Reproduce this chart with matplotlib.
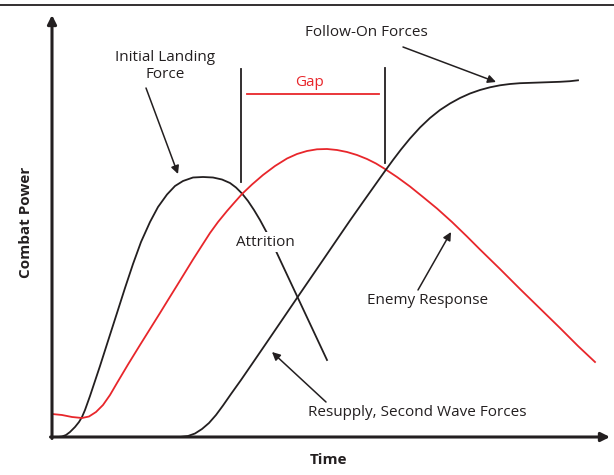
import matplotlib
matplotlib.use("Agg")
import matplotlib.pyplot as plt

plt.rcParams['font.family'] = ['Open Sans', 'DejaVu Sans']

# origin of the diagram, in pixels of the picture
X0, Y0 = 52, 437

# curves (pixel x, pixel y)
landing_px = [58, 62, 66, 70, 75, 79, 82, 85, 90, 95, 100, 108, 117, 125, 133, 141, 150, 158,
              167, 175, 183, 193, 203, 213, 222, 230, 236, 242, 248, 254, 260, 267, 275, 282,
              297, 312, 327]
landing_py = [437, 436.5, 435, 432, 427, 422, 417, 410, 396, 381, 366, 341, 313, 288, 264, 242,
              222, 207, 194.5, 186, 181, 177.5, 177, 177.5, 179.5, 183, 187.5, 193.5, 201, 210,
              220, 233, 249, 264, 296, 328, 360]

enemy_px = [52, 62, 72, 82, 89, 96, 103, 110, 117, 128, 140, 150, 160, 168, 177, 185, 193,
            201, 210, 218, 227, 234, 242, 252, 263, 275, 287, 297, 307, 317, 327, 337, 347,
            357, 367, 376, 385, 397, 410, 423, 437, 452, 467, 480, 500, 520, 540, 560, 578,
            595]
enemy_py = [414, 415, 417, 418, 416.5, 412, 405, 395, 383, 364.5, 345, 329, 313, 300, 285.5,
            272.5, 259.5, 247, 233, 222, 211, 203, 194, 184.5, 175, 166, 158.5, 154, 151,
            149.3, 149, 150, 152, 155, 159, 163.5, 169, 177, 186.5, 197, 208.5, 222, 236.5,
            249.5, 269, 289, 308.5, 328, 346, 362]

follow_px = [180, 188, 195, 202, 209, 216, 223, 231, 241, 252, 265, 280, 297, 310, 323, 337,
             350, 363, 374, 385, 393, 401, 410, 420, 430, 440, 450, 460, 470, 480, 490, 500,
             510, 520, 540, 560, 570, 578]
follow_py = [437, 436, 433.5, 429, 423, 415, 405.5, 394, 380, 364, 345, 323, 298, 279, 260,
             239.5, 220.5, 202, 186.5, 171, 160, 149.5, 138.5, 127.5, 118, 110, 103.5, 98,
             93.5, 90, 87.3, 85.3, 84, 83.2, 82.5, 81.8, 81.2, 80.3]

# convert to time / combat power
def to_t(px):
    return [p - X0 for p in px]

def to_p(py):
    return [Y0 - p for p in py]

RED = '#e8262b'
INK = '#231f20'
FS = 11

fig = plt.figure(figsize=(6.14, 4.75), dpi=100)
ax = fig.add_axes([0, 0, 1, 1])
ax.set_xlim(-X0, 614 - X0)
ax.set_ylim(Y0 - 475, Y0)
ax.axis('off')

# top rule
ax.plot([-X0, 614 - X0], [Y0 - 5, Y0 - 5], color=INK, lw=1.3)

# axes with arrow heads
ax.annotate('', xy=(0, Y0 - 15), xytext=(0, -1.5),
            arrowprops=dict(arrowstyle='-|>', lw=2.2, color=INK, mutation_scale=13,
                            shrinkA=0, shrinkB=0))
ax.annotate('', xy=(610 - X0, 0), xytext=(-1.5, 0),
            arrowprops=dict(arrowstyle='-|>', lw=2.2, color=INK, mutation_scale=13,
                            shrinkA=0, shrinkB=0))

ax.plot(to_t(landing_px), to_p(landing_py), color=INK, lw=1.3, solid_joinstyle='round')
ax.plot(to_t(enemy_px), to_p(enemy_py), color=RED, lw=1.3, solid_joinstyle='round')
ax.plot(to_t(follow_px), to_p(follow_py), color=INK, lw=1.3, solid_joinstyle='round')

# gap markers
ax.plot([241 - X0, 241 - X0], to_p([69, 182]), color=INK, lw=1.3)
ax.plot([385 - X0, 385 - X0], to_p([68, 163]), color=INK, lw=1.3)
ax.plot([247 - X0, 379 - X0], to_p([94, 94]), color=RED, lw=1.3)
ax.text(310 - X0, Y0 - 83, 'Gap', color=RED, fontsize=FS, ha='center', va='center')

arrow = dict(arrowstyle='-|>', lw=1.1, color=INK, mutation_scale=12, shrinkA=0, shrinkB=0)

ax.text(165 - X0, Y0 - 66, 'Initial Landing\nForce', fontsize=FS, ha='center',
        va='center', linespacing=1.2, color=INK)
ax.annotate('', xy=(178 - X0, Y0 - 174), xytext=(146 - X0, Y0 - 88), arrowprops=arrow)

ax.text(366 - X0, Y0 - 33, 'Follow-On Forces', fontsize=FS, ha='center', va='center', color=INK)
ax.annotate('', xy=(496 - X0, Y0 - 82), xytext=(403 - X0, Y0 - 47), arrowprops=arrow)

ax.text(265 - X0, Y0 - 242, 'Attrition', fontsize=FS, ha='center', va='center', color=INK,
        bbox=dict(facecolor='white', edgecolor='none', pad=1.5))

ax.text(428 - X0, Y0 - 301, 'Enemy Response', fontsize=FS, ha='center', va='center', color=INK)
ax.annotate('', xy=(451 - X0, Y0 - 232), xytext=(418 - X0, Y0 - 290), arrowprops=arrow)

ax.text(417 - X0, Y0 - 412, 'Resupply, Second Wave Forces', fontsize=FS, ha='center',
        va='center', color=INK)
ax.annotate('', xy=(272 - X0, Y0 - 352), xytext=(326 - X0, Y0 - 402), arrowprops=arrow)

ax.text(328 - X0, Y0 - 460, 'Time', fontsize=FS, fontweight='bold', ha='center',
        va='center', color=INK)
ax.text(26 - X0, Y0 - 222, 'Combat Power', fontsize=FS, fontweight='bold', ha='center',
        va='center', rotation=90, color=INK)

fig.savefig('out.png', dpi=100)
